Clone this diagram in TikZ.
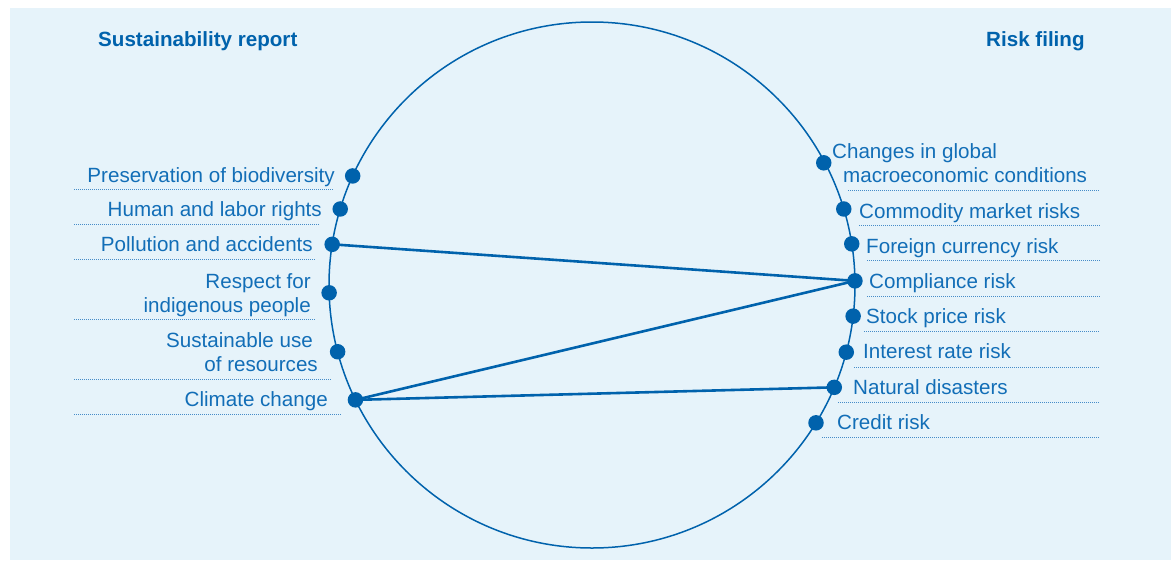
\documentclass[tikz,border=0pt]{standalone}
\usepackage{fontspec}
\setmainfont{Liberation Sans}
\definecolor{myblue}{RGB}{0,98,172}
\definecolor{txtblue}{RGB}{18,110,183}
\definecolor{bgblue}{RGB}{230,243,250}
\definecolor{dotblue}{RGB}{70,140,200}
\tikzset{
  dotnode/.style={circle, fill=myblue, minimum size=15.5, inner sep=0},
  lbl/.style={inner sep=0, text=txtblue, font=\fontsize{20.6}{24}\selectfont},
  ttl/.style={inner sep=0, text=myblue, font=\fontsize{20.6}{24}\selectfont\bfseries},
  uline/.style={draw=dotblue, line width=0.8pt, dash pattern=on 1pt off 1pt},
  conn/.style={draw=myblue, line width=2.6pt},
  ring/.style={draw=myblue, line width=1.5pt}
}
\begin{document}
\begin{tikzpicture}[x=1pt, y=-1pt]
\useasboundingbox (0,0) rectangle (1175,560);
\fill[bgblue] (10,8) rectangle (1171,560);
\coordinate (c) at (592,285);
\draw[ring] (c) circle[radius=263];

% titles
\node[ttl, anchor=base west] (t1) at (98,46) {Sustainability report};
\node[ttl, anchor=base west] (t2) at (986,46) {Risk filing};

% left labels
\node[lbl, anchor=base east] (lpres) at (335,182) {Preservation of biodiversity};
\node[lbl, anchor=base east] (lhum) at (322,216) {Human and labor rights};
\node[lbl, anchor=base east] (lpol) at (313,251) {Pollution and accidents};
\node[lbl, anchor=base east] (lres1) at (311,288) {Respect for};
\node[lbl, anchor=base east] (lres2) at (311,312) {indigenous people};
\node[lbl, anchor=base east] (lsus1) at (313,347) {Sustainable use};
\node[lbl, anchor=base east] (lsus2) at (318,371) {of resources};
\node[lbl, anchor=base east] (lcli) at (328,406) {Climate change};

% right labels
\node[lbl, anchor=base west] (rch1) at (832,158) {Changes in global};
\node[lbl, anchor=base west] (rch2) at (843,182) {macroeconomic conditions};
\node[lbl, anchor=base west] (rcom) at (859,218) {Commodity market risks};
\node[lbl, anchor=base west] (rfor) at (866,253) {Foreign currency risk};
\node[lbl, anchor=base west] (rcpl) at (869,288) {Compliance risk};
\node[lbl, anchor=base west] (rsto) at (866,323) {Stock price risk};
\node[lbl, anchor=base west] (rint) at (863,358) {Interest rate risk};
\node[lbl, anchor=base west] (rnat) at (853,394) {Natural disasters};
\node[lbl, anchor=base west] (rcre) at (837,429) {Credit risk};

% underlines
\draw[uline] (74,189.5) -- (333,189.5);
\draw[uline] (74,224.5) -- (320,224.5);
\draw[uline] (74,259.5) -- (315,259.5);
\draw[uline] (74,319.5) -- (315,319.5);
\draw[uline] (74,379) -- (331,379);
\draw[uline] (74,414) -- (342,414);
\draw[uline] (848,190.5) -- (1100,190.5);
\draw[uline] (859,225.5) -- (1100,225.5);
\draw[uline] (867,260.5) -- (1100,260.5);
\draw[uline] (867,296) -- (1100,296);
\draw[uline] (864,331.5) -- (1100,331.5);
\draw[uline] (854,367) -- (1100,367);
\draw[uline] (838,402) -- (1100,402);
\draw[uline] (822,437.5) -- (1100,437.5);

% dots on circle
\path (c) ++(204.5:263) node[dotnode] (dpres) {};
\path (c) ++(196.8:263) node[dotnode] (dhum) {};
\path (c) ++(188.9:263) node[dotnode] (dpol) {};
\path (c) ++(178.3:263) node[dotnode] (dres) {};
\path (c) ++(165.3:263) node[dotnode] (dsus) {};
\path (c) ++(154.1:263) node[dotnode] (dcli) {};
\path (c) ++(-27.8:262) node[dotnode] (dch) {};
\path (c) ++(-16.8:263) node[dotnode] (dcom) {};
\path (c) ++(-9.0:263) node[dotnode] (dfor) {};
\path (c) ++(-0.9:263) node[dotnode] (dcpl) {};
\path (c) ++(6.8:263) node[dotnode] (dsto) {};
\path (c) ++(14.8:263) node[dotnode] (dint) {};
\path (c) ++(22.9:263) node[dotnode] (dnat) {};
\path (c) ++(31.6:263) node[dotnode] (dcre) {};

% connectors
\draw[conn] (dpol.center) -- (dcpl.center);
\draw[conn] (dcli.center) -- (dcpl.center);
\draw[conn] (dcli.center) -- (dnat.center);
\end{tikzpicture}
\end{document}
